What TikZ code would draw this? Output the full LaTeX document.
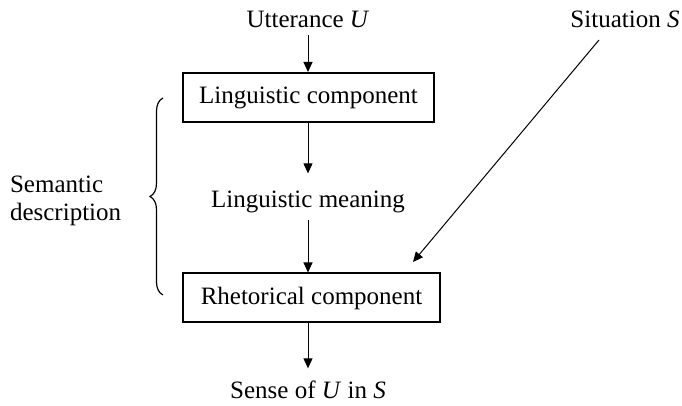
\documentclass[tikz,border=0pt]{standalone}
\usepackage{fontspec}
\setmainfont{Liberation Serif}
\usetikzlibrary{arrows.meta,positioning,decorations.pathreplacing}

\begin{document}
\begin{tikzpicture}[
    x=0.5pt, y=-0.5pt,
    font=\fontsize{12.5}{14}\selectfont,
    box/.style={draw, line width=1pt, minimum height=24.5pt, inner sep=0pt, anchor=west},
    txt/.style={anchor=base},
    arrow/.style={-{Triangle[length=5pt, width=4.5pt]}, line width=0.5pt}
]
    \useasboundingbox (0,0) rectangle (682,406);

    \node[txt] (utterance) at (308,27.5) {Utterance \textit{U}};
    \node[box, minimum width=125.5pt] (linguistic) at (182,97.5) {Linguistic component};
    \node[txt] (meaning) at (308,208) {Linguistic meaning};
    \node[box, minimum width=128.5pt] (rhetorical) at (182,298) {Rhetorical component};
    \node[txt] (sense) at (308,399) {Sense of \textit{U} in \textit{S}};
    \node[txt] (situation) at (625,27.5) {Situation \textit{S}};
    \node[txt, align=left, anchor=west] (semantic) at (3,201) {Semantic\\description};
    \coordinate (sitfoot) at (599,40);
    \coordinate (sittip) at (413,262);

    \draw[arrow] (utterance) -- (utterance |- linguistic.north);
    \draw[arrow] (linguistic.south -| meaning) -- ([yshift=5.5pt]meaning.north);
    \draw[arrow] (meaning.south) -- (meaning.south |- rhetorical.north);
    \draw[arrow] (rhetorical.south -| sense) -- ([yshift=3pt]sense.north);
    \draw[arrow] (sitfoot) -- (sittip);

    % brace for the semantic part
    \draw[decorate, decoration={brace, amplitude=6.5pt}, line width=0.6pt] (163,295) -- (163,98);
\end{tikzpicture}
\end{document}
